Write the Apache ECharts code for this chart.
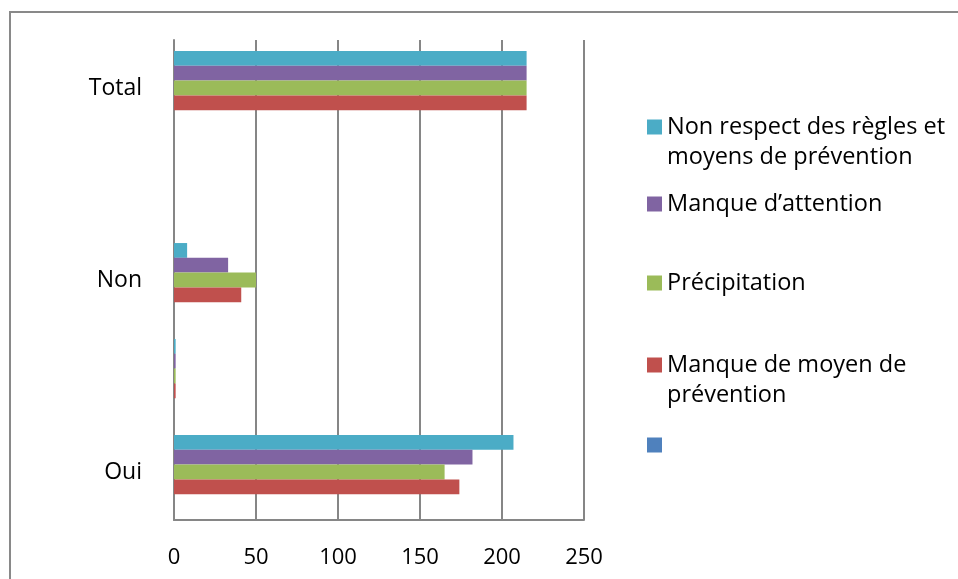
<!DOCTYPE html>
<html>
<head>
<meta charset="utf-8">
<script src="https://cdn.jsdelivr.net/npm/echarts@6/dist/echarts.min.js"></script>
<style>
  html, body { margin: 0; padding: 0; background: #fff; }
  #chart { width: 958px; height: 579px; }
</style>
</head>
<body>
<div id="chart"></div>
<script>
// Categories, bottom to top (two unnamed rows)
const categories = ['Oui', ' ', 'Non', '  ', 'Total'];

// Series values, one per category (bottom to top)
const nonRespect    = [207, 1, 8, null, 215];
const manqueAttn    = [182, 1, 33, null, 215];
const precipitation = [165, 1, 50, null, 215];
const manqueMoyen   = [174, 1, 41, null, 215];
const sansNom       = [null, null, null, null, null];

const seriesNames = [
  'Non respect des règles et moyens de prévention',
  'Manque d\u2019attention',
  'Précipitation',
  'Manque de moyen de prévention',
  '\u00a0'
];
// Wrapped legend text; a blank leading line keeps the swatch level with the first line
const legendLabels = [
  '\nNon respect des règles et\nmoyens de prévention',
  'Manque d\u2019attention',
  'Précipitation',
  '\nManque de moyen de\nprévention',
  '\u00a0'
];
const xTicks = [0, 50, 100, 150, 200, 250];

const colors = ['#4BACC6', '#8064A2', '#9BBB59', '#C0504D', '#4F81BD'];
const values = [nonRespect, manqueAttn, precipitation, manqueMoyen, sansNom];

const FONT = 'Open Sans';
const chart = echarts.init(document.getElementById('chart'), null, { renderer: 'canvas' });

// Vertical centre of each legend swatch
const legendCentres = [127, 204, 283, 365, 445];
const legends = seriesNames.map((name, i) => {
  const lines = legendLabels[i].split('\n').length;
  return {
    show: true,
    orient: 'vertical',
    left: 647,
    top: legendCentres[i] - lines * 15,
    padding: 0,
    itemWidth: 15,
    itemHeight: 15,
    itemGap: 0,
    icon: 'rect',
    selectedMode: false,
    data: [{ name: name, itemStyle: { color: colors[i] } }],
    formatter: () => legendLabels[i],
    textStyle: { fontFamily: FONT, fontSize: 23.5, color: '#000', lineHeight: 30 }
  };
});

const series = seriesNames.map((name, i) => ({
  name: name,
  type: 'bar',
  data: values[i],
  barGap: '0%',
  barCategoryGap: '23%',
  itemStyle: { color: colors[i] },
  emphasis: { disabled: true },
  animation: false
}));

chart.setOption({
  animation: false,
  backgroundColor: '#fff',
  graphic: [{
    type: 'rect',
    shape: { x: 10, y: 12, width: 1000, height: 700 },
    style: { fill: 'none', stroke: '#898989', lineWidth: 2 },
    silent: true
  }],
  grid: { left: 174, right: 374, top: 40, bottom: 59, containLabel: false },
  legend: legends,
  xAxis: {
    type: 'value',
    min: xTicks[0],
    max: xTicks[xTicks.length - 1],
    interval: 50,
    axisLine: { show: true, lineStyle: { color: '#868686', width: 2 } },
    axisTick: { show: false },
    axisLabel: { fontFamily: FONT, fontSize: 22, color: '#000', margin: 27 },
    splitLine: { show: true, lineStyle: { color: '#868686', width: 2 } }
  },
  yAxis: {
    type: 'category',
    data: categories,
    axisLine: { show: true, lineStyle: { color: '#868686', width: 2 } },
    axisTick: { show: false },
    axisLabel: { fontFamily: FONT, fontSize: 23, color: '#000', margin: 32, interval: 0 },
    splitLine: { show: false }
  },
  series: series
});
</script>
</body>
</html>
